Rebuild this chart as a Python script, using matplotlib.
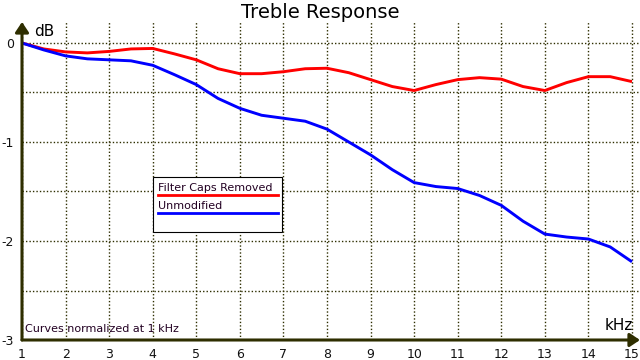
import matplotlib
matplotlib.use("Agg")
import matplotlib.pyplot as plt
from matplotlib.lines import Line2D
from matplotlib.patches import Rectangle

freq_khz = [1, 1.5, 2, 2.5, 3, 3.5, 4, 4.5, 5, 5.5, 6, 6.5, 7, 7.5, 8,
            8.5, 9, 9.5, 10, 10.5, 11, 11.5, 12, 12.5, 13, 13.5, 14, 14.5, 15]
caps_removed = [0, -0.06, -0.09, -0.10, -0.085, -0.06, -0.055, -0.11, -0.17,
                -0.26, -0.31, -0.31, -0.29, -0.26, -0.255, -0.30, -0.37, -0.44,
                -0.48, -0.42, -0.37, -0.35, -0.365, -0.44, -0.48, -0.40, -0.34,
                -0.34, -0.39]
unmodified = [0, -0.07, -0.13, -0.16, -0.17, -0.18, -0.225, -0.32, -0.42,
              -0.56, -0.66, -0.73, -0.76, -0.79, -0.87, -1.00, -1.13, -1.28,
              -1.41, -1.45, -1.47, -1.54, -1.64, -1.80, -1.93, -1.96, -1.98,
              -2.06, -2.21]
series_names = ["Filter Caps Removed", "Unmodified"]
x_ticks = list(range(1, 16))
y_ticks = [-3, -2, -1, 0]
y_minor = [-2.5, -1.5, -0.5]

AXIS = "#2e2e00"
RED = "#ff0000"
BLUE = "#0000ff"

W, H = 640, 360
fig = plt.figure(figsize=(6.4, 3.6), dpi=100)
fig.patch.set_facecolor("white")

# plot area: x=1 at px 22, y=0 at px 43, y=-3 at px 340
ax = fig.add_axes([22 / W, 20 / H, 618 / W, 318 / H])
px_per_khz = 43.57
ax.set_xlim(1, 1 + 618 / px_per_khz)
ax.set_ylim(-3, 21 / 99)
for s in ax.spines.values():
    s.set_visible(False)

ax.set_xticks(x_ticks)
ax.set_xticklabels([str(t) for t in x_ticks])
ax.set_yticks(y_ticks)
ax.set_yticklabels([str(t) for t in y_ticks])
ax.set_yticks(y_minor, minor=True)
ax.tick_params(which="both", length=0)
ax.tick_params(axis="x", pad=6, labelsize=9, colors="#111111")
ax.tick_params(axis="y", pad=6, labelsize=9, colors="#111111")
ax.grid(True, which="both", color=AXIS, linestyle=(0, (1, 1.5)), linewidth=1.0, zorder=0)

ax.plot(freq_khz, caps_removed, color=RED, lw=2.1, zorder=3, solid_capstyle="butt")
ax.plot(freq_khz, unmodified, color=BLUE, lw=2.1, zorder=3, solid_capstyle="butt")

# axis arrows
arrow = dict(arrowstyle="-|>,head_length=0.6,head_width=0.4", lw=2.2, color=AXIS,
             mutation_scale=10, shrinkA=0, shrinkB=0)
ax.annotate("", xy=(0, 1), xytext=(0, 0), xycoords="axes fraction",
            textcoords="axes fraction", arrowprops=arrow, annotation_clip=False, zorder=4)
ax.annotate("", xy=(1, 0), xytext=(0, 0), xycoords="axes fraction",
            textcoords="axes fraction", arrowprops=arrow, annotation_clip=False, zorder=4)

fig.text(320 / W, 1 - 12 / H, "Treble Response", ha="center", va="center", fontsize=14)
fig.text(34 / W, 1 - 31 / H, "dB", ha="left", va="center", fontsize=11)
fig.text(633 / W, 1 - 326 / H, "kHz", ha="right", va="center", fontsize=11)
fig.text(25 / W, 1 - 329 / H, "Curves normalized at 1 kHz", ha="left", va="center",
         fontsize=8, color="#220022")

# legend box
fig.patches.append(Rectangle((153 / W, 1 - 232 / H), 129 / W, 55 / H,
                             transform=fig.transFigure, facecolor="white",
                             edgecolor="black", lw=0.8, zorder=5))
for i, (name, col) in enumerate(zip(series_names, [RED, BLUE])):
    ty = 188 + i * 18
    fig.text(158 / W, 1 - ty / H, name, ha="left", va="center", fontsize=8,
             color="#220022", zorder=6)
    ly = 1 - (ty + 7) / H
    fig.lines.append(Line2D([158 / W, 278 / W], [ly, ly], transform=fig.transFigure,
                            color=col, lw=2.0, zorder=6))

fig.savefig("out.png", dpi=100)
